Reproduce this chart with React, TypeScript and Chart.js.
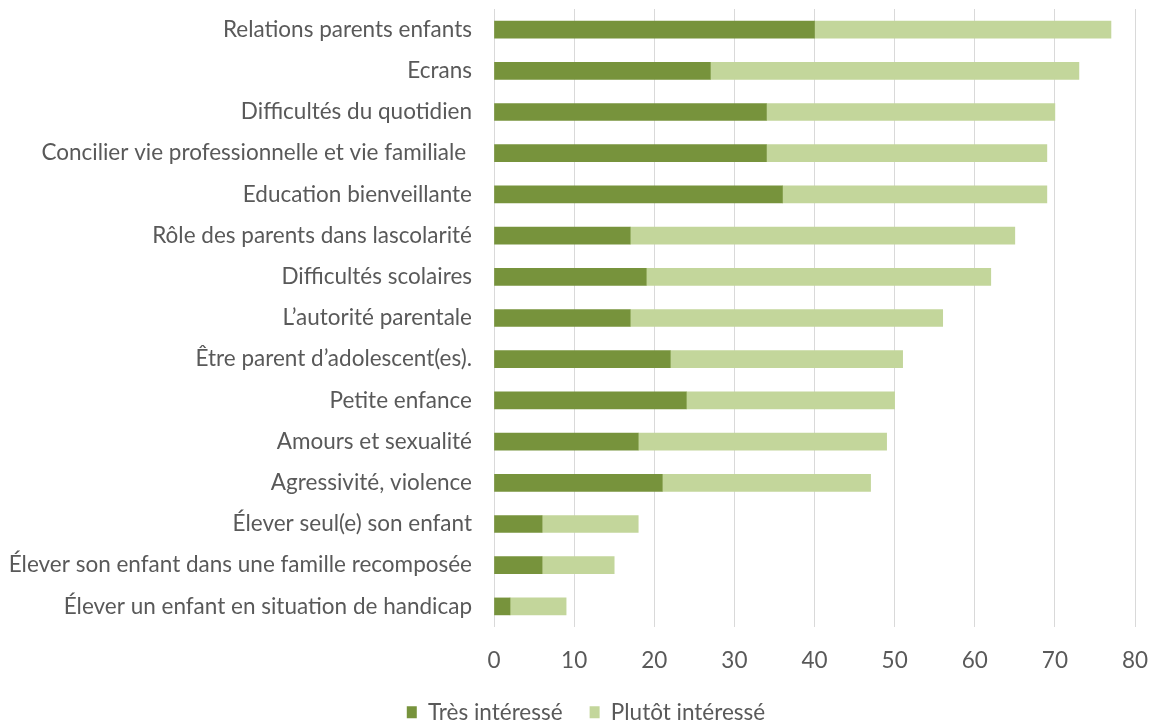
import React, { useEffect, useRef } from "react";
import { Chart, registerables } from "chart.js";

Chart.register(...registerables);

const categories = [
  "Relations parents enfants",
  "Ecrans",
  "Difficultés du quotidien",
  "Concilier vie professionnelle et vie familiale ",
  "Education bienveillante",
  "Rôle des parents dans lascolarité",
  "Difficultés scolaires",
  "L’autorité parentale",
  "Être parent d’adolescent(es).",
  "Petite enfance",
  "Amours et sexualité",
  "Agressivité, violence",
  "Élever seul(e) son enfant",
  "Élever son enfant dans une famille recomposée",
  "Élever un enfant en situation de handicap",
];

const tresInteresse = [40, 27, 34, 34, 36, 17, 19, 17, 22, 24, 18, 21, 6, 6, 2];
const plutotInteresse = [37, 46, 36, 35, 33, 48, 43, 39, 29, 26, 31, 26, 12, 9, 7];

const xTicks = [0, 10, 20, 30, 40, 50, 60, 70, 80];

const FONT = "Lato, 'Open Sans', sans-serif";
const TEXT = "#595959";
const SIZE = 22.5;

export default function App() {
  const ref = useRef<HTMLCanvasElement | null>(null);

  useEffect(() => {
    if (!ref.current) return;
    const chart = new Chart(ref.current, {
      type: "bar",
      data: {
        labels: categories,
        datasets: [
          {
            label: "Très intéressé",
            data: tresInteresse,
            backgroundColor: "#77933C",
            borderWidth: 0,
            barThickness: 17,
          },
          {
            label: "Plutôt intéressé",
            data: plutotInteresse,
            backgroundColor: "#C3D69B",
            borderWidth: 0,
            barThickness: 17,
          },
        ],
      },
      options: {
        indexAxis: "y",
        animation: false,
        responsive: false,
        maintainAspectRatio: false,
        layout: { padding: { top: 9, right: 21, left: 0, bottom: 0 } },
        scales: {
          x: {
            stacked: true,
            min: 0,
            max: 80,
            afterBuildTicks: (scale: any) => {
              scale.ticks = xTicks.map((v) => ({ value: v }));
            },
            grid: { color: "#d9d9d9", drawTicks: false, lineWidth: 1 },
            border: { display: false },
            ticks: {
              color: TEXT,
              font: { family: FONT, size: SIZE },
              padding: 20,
            },
            afterFit: (scale: any) => {
              scale.paddingLeft = 0;
              scale.paddingRight = 0;
              scale.height = 47;
            },
          },
          y: {
            stacked: true,
            grid: { display: false, drawTicks: false },
            border: { display: false },
            ticks: {
              color: TEXT,
              font: { family: FONT, size: SIZE },
              padding: 22,
              autoSkip: false,
            },
            afterFit: (scale: any) => {
              scale.width = 494;
              scale.paddingTop = 0;
              scale.paddingBottom = 0;
            },
          },
        },
        plugins: {
          tooltip: { enabled: false },
          legend: {
            position: "bottom",
            labels: {
              color: TEXT,
              font: { family: FONT, size: SIZE },
              boxWidth: 10,
              boxHeight: 12,
              padding: 27,
            },
          },
        },
      },
    });
    const lg: any = (chart as any).legend;
    if (lg) {
      const origFit = lg.fit.bind(lg);
      lg.fit = function () {
        origFit();
        this.height = 51;
      };
      const origDraw = lg._draw.bind(lg);
      lg._draw = function () {
        const ctx = this.ctx;
        ctx.save();
        ctx.translate(18.5, 0);
        origDraw();
        ctx.restore();
      };
      chart.update();
    }
    return () => chart.destroy();
  }, []);

  return (
    <div style={{ position: "fixed", left: 0, top: 0, width: 1156, height: 725, background: "#fff" }}>
      <canvas ref={ref} width={1156} height={725} style={{ width: 1156, height: 725 }} />
    </div>
  );
}
